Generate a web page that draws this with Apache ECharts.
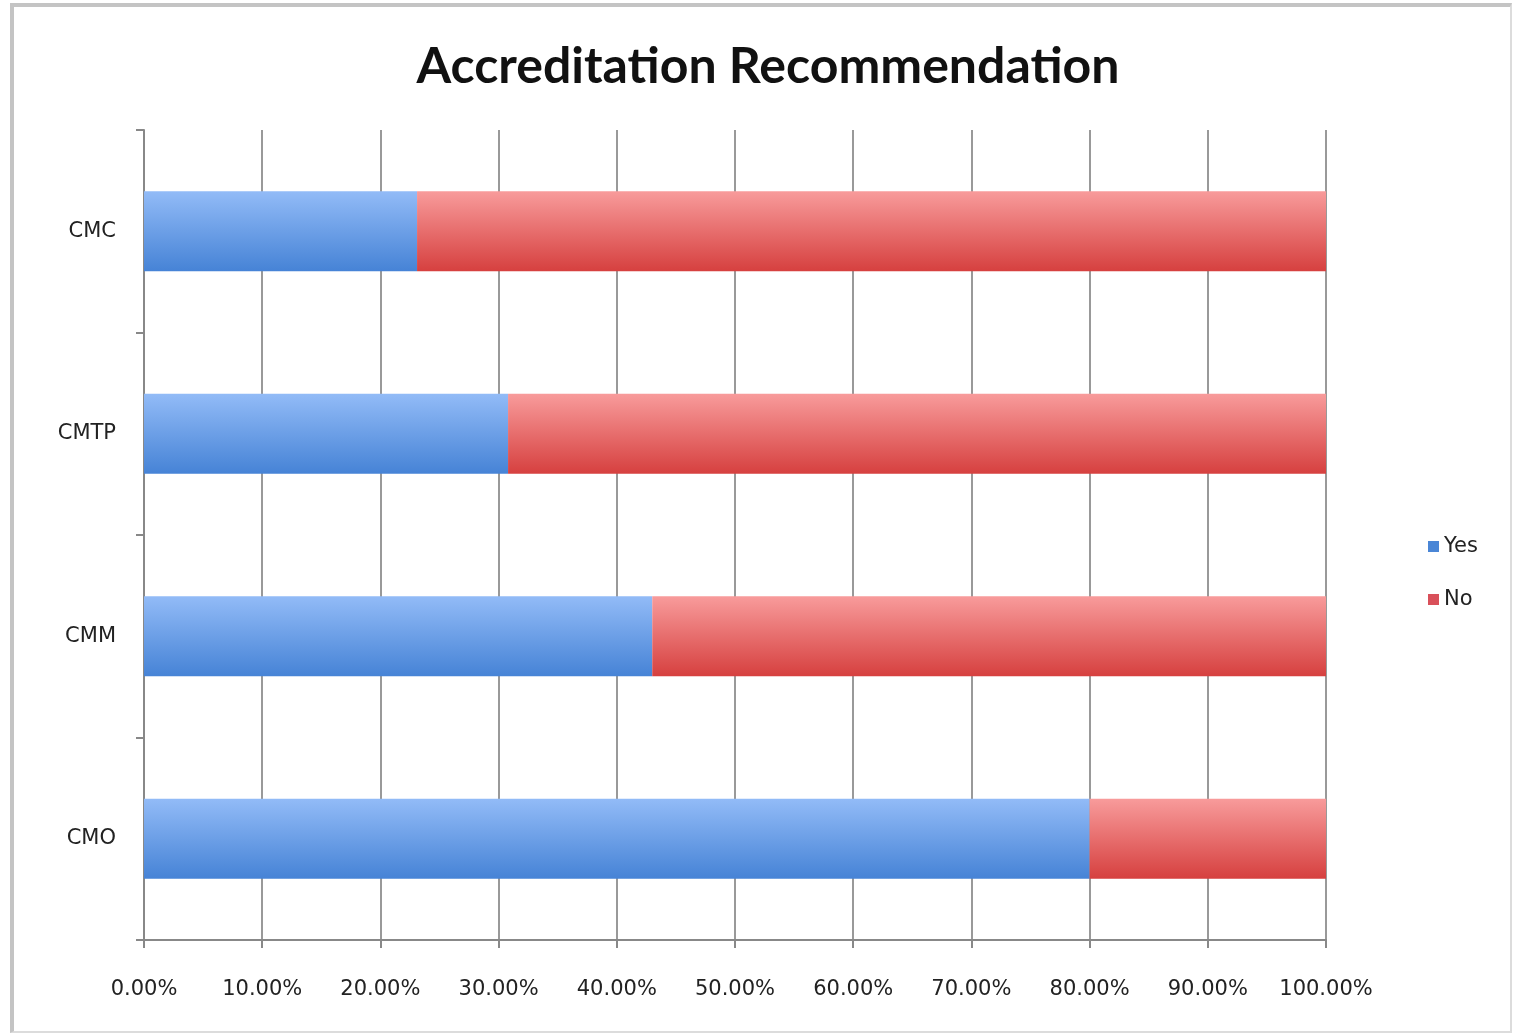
<!DOCTYPE html>
<html><head><meta charset="utf-8">
<script src="https://cdn.jsdelivr.net/npm/echarts@6/dist/echarts.min.js"></script>
<style>
html,body{margin:0;padding:0;background:#fff;}
#c{width:1513px;height:1034px;}
#frame{position:absolute;left:10px;top:3px;width:1496px;height:1024px;border-left:4px solid #c4c4c4;border-top:4px solid #c4c4c4;border-right:2px solid #dcdcdc;border-bottom:2px solid #dcdcdc;pointer-events:none;}
</style></head><body>
<div id="c"></div><div id="frame"></div>
<script>
const categories = ['CMO', 'CMM', 'CMTP', 'CMC'];
const yesValues = [80.0, 43.0, 30.8, 23.1];
const noValues = [20.0, 57.0, 69.2, 76.9];
const xTicks = [0, 10, 20, 30, 40, 50, 60, 70, 80, 90, 100];

const chart = echarts.init(document.getElementById('c'));
const grad = (top, bottom) => new echarts.graphic.LinearGradient(0, 0, 0, 1, [{offset: 0, color: top}, {offset: 1, color: bottom}]);
const titleFont = 'Lato, "Open Sans", sans-serif';
const font = '"DejaVu Sans", sans-serif';
chart.setOption({
  animation: false,
  title: {text: 'Accreditation Recommendation', left: 763, top: 37, textAlign: 'center',
    textStyle: {fontFamily: titleFont, fontWeight: 'bold', fontSize: 50, color: '#111'}},
  legend: {orient: 'vertical', left: 1423, top: 531, itemWidth: 11, itemHeight: 11, itemGap: 32,
    icon: 'rect', textStyle: {fontFamily: font, fontSize: 21, color: '#222'},
    data: [{name: 'Yes', itemStyle: {color: '#4a86d6'}}, {name: 'No', itemStyle: {color: '#d9505a'}}]},
  grid: {left: 144, right: 187, top: 130, bottom: 94},
  xAxis: {type: 'value', min: 0, max: 100, interval: 10,
    axisLine: {show: true, lineStyle: {color: '#888', width: 2}},
    axisTick: {show: true, length: 8, lineStyle: {color: '#888', width: 2}},
    splitLine: {show: true, lineStyle: {color: '#999', width: 2}},
    axisLabel: {margin: 39, fontFamily: font, fontSize: 21, color: '#222',
      formatter: v => xTicks.includes(v) ? v.toFixed(2) + '%' : ''}},
  yAxis: {type: 'category', data: categories,
    axisLine: {show: true, lineStyle: {color: '#888', width: 2}},
    axisTick: {show: true, length: 8, inside: false, lineStyle: {color: '#888', width: 2}},
    axisLabel: {margin: 28, fontFamily: font, fontSize: 21, color: '#222', padding: [5, 0, 0, 0]}},
  series: [
    {name: 'Yes', type: 'bar', stack: 's', barWidth: 80, data: yesValues,
      itemStyle: {color: grad('#92bbf7', '#4683d6')}},
    {name: 'No', type: 'bar', stack: 's', barWidth: 80, data: noValues,
      itemStyle: {color: grad('#f89b9b', '#d6403f')}}
  ]
});
</script></body></html>
